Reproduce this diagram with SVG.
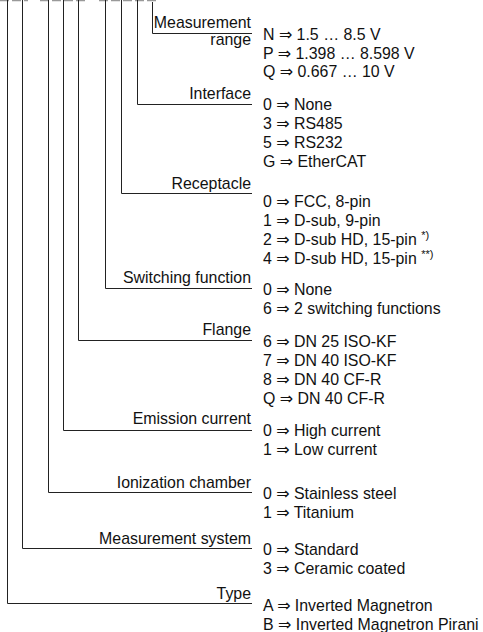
<svg xmlns="http://www.w3.org/2000/svg" width="483" height="632" viewBox="0 0 483 632">
<style>
text{font-family:"Liberation Sans",Arial,"DejaVu Sans",sans-serif;font-size:15.9px;fill:#111}
.lbl{text-anchor:end}
.sup{font-size:11px}
.c{fill:none;stroke:#222;stroke-width:1}
.top{fill:none;stroke:#999;stroke-width:1.5;stroke-dasharray:9,3}
</style>
<rect width="483" height="632" fill="#fff"/>
<g id="code-remnant">
<line class="top" x1="0" y1="0.5" x2="28" y2="0.5"/>
<line class="top" x1="40" y1="0.5" x2="87" y2="0.5"/>
<line class="top" x1="99" y1="0.5" x2="157" y2="0.5"/>
</g>
<g id="connectors">
<polyline class="c" points="152.5,2 152.5,33.5 252,33.5"/>
<polyline class="c" points="137.5,0 137.5,104.5 252,104.5"/>
<polyline class="c" points="121.5,0 121.5,193.5 252,193.5"/>
<polyline class="c" points="105.5,0 105.5,288.5 252,288.5"/>
<polyline class="c" points="78.5,0 78.5,340.5 252,340.5"/>
<polyline class="c" points="63.5,0 63.5,430.5 252,430.5"/>
<polyline class="c" points="48.5,0 48.5,492.5 252,492.5"/>
<polyline class="c" points="22.5,0 22.5,548.5 252,548.5"/>
<polyline class="c" points="7.5,0 7.5,603.5 252,603.5"/>
</g>
<g id="measurement-range">
<text class="lbl" x="251" y="28">Measurement</text>
<text class="lbl" x="251" y="45">range</text>
<text x="263" y="40">N ⇒ 1.5 … 8.5 V</text>
<text x="263" y="58.5">P ⇒ 1.398 … 8.598 V</text>
<text x="263" y="77">Q ⇒ 0.667 … 10 V</text>
</g>
<g id="interface">
<text class="lbl" x="251" y="99">Interface</text>
<text x="263" y="110">0 ⇒ None</text>
<text x="263" y="129">3 ⇒ RS485</text>
<text x="263" y="148">5 ⇒ RS232</text>
<text x="263" y="167">G ⇒ EtherCAT</text>
</g>
<g id="receptacle">
<text class="lbl" x="251" y="189">Receptacle</text>
<text x="263" y="207">0 ⇒ FCC, 8-pin</text>
<text x="263" y="226">1 ⇒ D-sub, 9-pin</text>
<text x="263" y="245">2 ⇒ D-sub HD, 15-pin <tspan class="sup" dy="-6">*)</tspan></text>
<text x="263" y="264">4 ⇒ D-sub HD, 15-pin <tspan class="sup" dy="-6">**)</tspan></text>
</g>
<g id="switching-function">
<text class="lbl" x="251" y="283">Switching function</text>
<text x="263" y="295">0 ⇒ None</text>
<text x="263" y="314">6 ⇒ 2 switching functions</text>
</g>
<g id="flange">
<text class="lbl" x="251" y="335">Flange</text>
<text x="263" y="347">6 ⇒ DN 25 ISO-KF</text>
<text x="263" y="366">7 ⇒ DN 40 ISO-KF</text>
<text x="263" y="385">8 ⇒ DN 40 CF-R</text>
<text x="263" y="404">Q ⇒ DN 40 CF-R</text>
</g>
<g id="emission-current">
<text class="lbl" x="251" y="424">Emission current</text>
<text x="263" y="436">0 ⇒ High current</text>
<text x="263" y="455">1 ⇒ Low current</text>
</g>
<g id="ionization-chamber">
<text class="lbl" x="251" y="488">Ionization chamber</text>
<text x="263" y="499">0 ⇒ Stainless steel</text>
<text x="263" y="518">1 ⇒ Titanium</text>
</g>
<g id="measurement-system">
<text class="lbl" x="251" y="544">Measurement system</text>
<text x="263" y="555">0 ⇒ Standard</text>
<text x="263" y="574">3 ⇒ Ceramic coated</text>
</g>
<g id="type">
<text class="lbl" x="251" y="599">Type</text>
<text x="263" y="611">A ⇒ Inverted Magnetron</text>
<text x="263" y="630">B ⇒ Inverted Magnetron Pirani</text>
</g>
</svg>
